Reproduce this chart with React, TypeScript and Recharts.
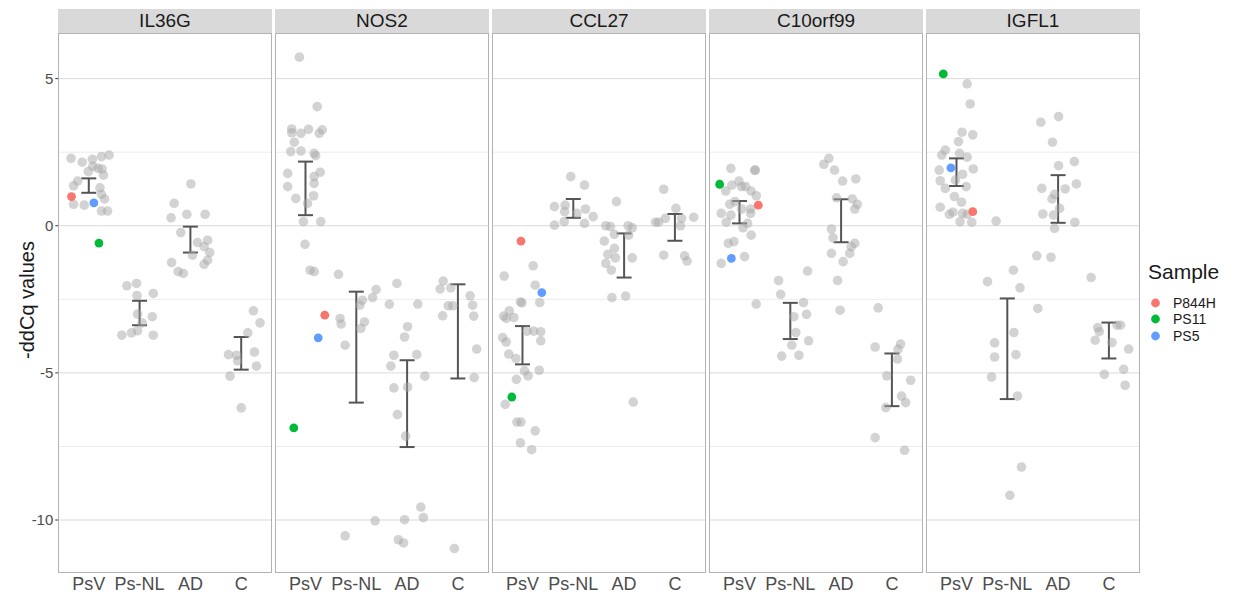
import React from 'react';
import { ScatterChart, Scatter, XAxis, YAxis, CartesianGrid, ErrorBar } from 'recharts';

const GROUPS = ['PsV', 'Ps-NL', 'AD', 'C'];
const GENES = ['IL36G', 'NOS2', 'CCL27', 'C10orf99', 'IGFL1'];

// each point: [group index, jitter, -ddCq]
type Pt = [number, number, number];

const IL36G: Pt[] = [
  [0, -0.35, 2.29], [0, -0.13, 2.16], [0, 0.07, 2.26], [0, 0.25, 2.35], [0, 0.4, 2.4],
  [0, 0.08, 2.02], [0, 0.18, 1.95], [0, 0.26, 1.93], [0, -0.01, 1.84], [0, 0.29, 1.72],
  [0, -0.22, 1.52], [0, -0.3, 1.36], [0, 0.22, 1.29], [0, 0.25, 1.07], [0, 0.31, 0.91],
  [0, -0.3, 0.73], [0, -0.09, 0.7], [0, 0.25, 0.5], [0, 0.37, 0.5],
  [1, -0.25, -2.04], [1, -0.06, -1.96], [1, 0.27, -2.3], [1, -0.05, -2.37], [1, -0.04, -3.0],
  [1, 0.25, -3.09], [1, 0.05, -3.3], [1, -0.35, -3.72], [1, -0.16, -3.64], [1, -0.04, -3.57],
  [1, 0.27, -3.72],
  [2, 0.01, 1.42], [2, -0.32, 0.76], [2, -0.38, 0.27], [2, -0.07, 0.39], [2, 0.29, 0.39],
  [2, -0.19, -0.23], [2, 0.14, -0.57], [2, 0.34, -0.49], [2, 0.27, -0.71], [2, 0.38, -0.91],
  [2, 0.04, -1.0], [2, 0.34, -1.17], [2, -0.37, -1.25], [2, 0.27, -1.31], [2, -0.24, -1.56],
  [2, -0.14, -1.62],
  [3, 0.24, -2.89], [3, 0.37, -3.3], [3, 0.13, -3.64], [3, 0.26, -4.29], [3, -0.25, -4.38],
  [3, -0.09, -4.4], [3, -0.07, -4.59], [3, 0.3, -4.77], [3, -0.22, -5.11], [3, 0, -6.19],
];

const NOS2: Pt[] = [
  [0, -0.12, 5.73], [0, 0.23, 4.05], [0, -0.27, 3.29], [0, -0.27, 3.16], [0, -0.09, 3.14],
  [0, 0.06, 3.28], [0, 0.33, 3.26], [0, 0.27, 3.14], [0, -0.22, 2.84], [0, -0.29, 2.52],
  [0, -0.09, 2.54], [0, 0.17, 2.46], [0, 0.2, 2.38], [0, -0.35, 1.78], [0, 0.29, 1.82],
  [0, 0.17, 1.67], [0, -0.35, 1.33], [0, 0.17, 1.44], [0, 0.16, 1.02], [0, -0.19, 0.93],
  [0, 0.04, 0.76], [0, -0.04, 0.14], [0, 0.3, 0.14], [0, -0.01, -0.63], [0, 0.09, -1.51],
  [0, 0.17, -1.56],
  [1, -0.35, -1.65], [1, 0.39, -2.17], [1, 0.32, -2.44], [1, 0.07, -2.7], [1, 0.12, -2.53],
  [1, -0.32, -3.15], [1, -0.3, -3.34], [1, 0.16, -3.27], [1, 0.09, -3.49], [1, -0.22, -4.06],
  [1, 0.37, -10.03], [1, -0.22, -10.54],
  [2, -0.2, -1.96], [2, -0.35, -2.67], [2, 0.21, -2.66], [2, 0.01, -3.43], [2, -0.05, -3.78],
  [2, -0.26, -4.4], [2, 0.19, -4.38], [2, -0.32, -4.77], [2, 0.35, -5.11], [2, -0.26, -5.51],
  [2, 0.01, -5.48], [2, -0.19, -6.42], [2, -0.03, -7.15], [2, 0.27, -9.56], [2, 0.32, -9.92],
  [2, -0.05, -9.99], [2, -0.17, -10.67], [2, -0.07, -10.78],
  [3, -0.29, -1.88], [3, -0.35, -2.15], [3, -0.14, -2.11], [3, 0.24, -2.38], [3, -0.19, -2.72],
  [3, -0.1, -2.72], [3, 0.29, -2.7], [3, -0.3, -3.06], [3, 0.31, -3.07], [3, 0.37, -4.19],
  [3, 0.32, -5.16], [3, -0.07, -10.97],
];

const CCL27: Pt[] = [
  [0, 0.21, -1.36], [0, -0.36, -1.71], [0, 0.25, -2.02], [0, -0.04, -2.59], [0, -0.01, -2.62],
  [0, 0.34, -2.61], [0, -0.26, -2.89], [0, -0.37, -3.07], [0, -0.17, -3.12], [0, -0.32, -3.15],
  [0, 0.09, -3.58], [0, 0.22, -3.58], [0, 0.36, -3.6], [0, -0.39, -3.8], [0, -0.32, -3.95],
  [0, 0.36, -3.91], [0, -0.27, -4.36], [0, -0.13, -4.51], [0, 0.04, -4.93], [0, 0.11, -5.1],
  [0, 0.33, -4.91], [0, -0.12, -5.22], [0, -0.34, -6.07], [0, -0.11, -6.67], [0, -0.03, -6.67],
  [0, 0.25, -6.97], [0, -0.04, -7.38], [0, 0.18, -7.61],
  [1, -0.05, 1.67], [1, 0.22, 1.38], [1, -0.37, 0.65], [1, -0.16, 0.7], [1, -0.17, 0.48],
  [1, 0.24, 0.57], [1, 0.39, 0.31], [1, -0.18, 0.14], [1, -0.37, 0.02], [1, 0.22, 0.08],
  [1, 0.07, 0.42],
  [2, -0.15, 0.82], [2, -0.36, 0.0], [2, -0.27, -0.03], [2, 0.08, 0.0], [2, 0.16, -0.07],
  [2, -0.19, -0.29], [2, 0.09, -0.32], [2, -0.39, -0.52], [2, -0.19, -0.77], [2, -0.32, -0.97],
  [2, -0.17, -1.09], [2, 0.16, -1.09], [2, -0.36, -1.28], [2, -0.25, -1.51], [2, -0.24, -2.44],
  [2, 0.03, -2.39], [2, 0.18, -5.99],
  [3, -0.22, 1.24], [3, 0.02, 0.59], [3, 0.37, 0.29], [3, -0.19, 0.25], [3, 0.13, 0.25],
  [3, -0.38, 0.12], [3, -0.32, 0.12], [3, 0.11, 0.0], [3, -0.22, -1.0], [3, 0.19, -1.02],
  [3, 0.24, -1.2],
];

const C10ORF99: Pt[] = [
  [0, -0.17, 1.95], [0, 0.3, 1.88], [0, 0.31, 1.9], [0, -0.15, 1.38], [0, -0.01, 1.52],
  [0, 0.04, 1.33], [0, 0.12, 1.33], [0, -0.27, 1.18], [0, 0.23, 1.18], [0, 0.33, 1.02],
  [0, -0.09, 0.82], [0, -0.19, 0.73], [0, 0.04, 0.57], [0, 0.22, 0.57], [0, 0.22, 0.42],
  [0, -0.36, 0.42], [0, -0.17, 0.36], [0, -0.26, 0.12], [0, 0.16, 0.08], [0, 0.07, -0.07],
  [0, 0.23, -0.32], [0, -0.11, -0.54], [0, -0.22, -0.6], [0, 0.1, -1.05], [0, -0.36, -1.28],
  [0, 0.33, -2.66],
  [1, -0.23, -1.86], [1, -0.19, -2.33], [1, 0.34, -1.54], [1, 0.26, -2.61], [1, 0.07, -3.09],
  [1, 0.32, -3.01], [1, 0.11, -3.63], [1, 0.36, -3.91], [1, 0.03, -4.06], [1, -0.17, -4.43],
  [1, 0.17, -4.4],
  [2, -0.24, 2.29], [2, -0.34, 2.09], [2, -0.13, 1.89], [2, 0.03, 1.52], [2, 0.29, 1.59],
  [2, -0.09, 0.95], [2, 0.22, 0.91], [2, 0.32, 0.73], [2, 0.27, 0.57], [2, -0.19, -0.11],
  [2, -0.16, -0.41], [2, 0.27, -0.6], [2, 0.2, -0.71], [2, 0.17, -0.94], [2, -0.19, -0.94],
  [2, 0.04, -1.22], [2, -0.07, -1.86], [2, -0.02, -2.87],
  [3, -0.27, -2.79], [3, -0.33, -4.12], [3, 0.17, -4.02], [3, 0.12, -4.2], [3, 0.11, -4.53],
  [3, -0.1, -5.1], [3, 0.37, -5.25], [3, 0.19, -5.79], [3, 0.27, -6.01], [3, -0.12, -6.18],
  [3, -0.33, -7.2], [3, 0.25, -7.63],
];

const IGFL1: Pt[] = [
  [0, 0.21, 4.82], [0, 0.27, 4.14], [0, 0.11, 3.18], [0, 0.32, 3.09], [0, 0.04, 2.86],
  [0, -0.22, 2.57], [0, -0.29, 2.4], [0, 0.06, 2.46], [0, 0.21, 2.33], [0, -0.34, 1.89],
  [0, 0.33, 1.93], [0, 0.12, 1.75], [0, -0.32, 1.53], [0, -0.02, 1.55], [0, -0.22, 1.27],
  [0, 0.19, 1.33], [0, -0.04, 0.99], [0, 0.1, 0.8], [0, -0.32, 0.63], [0, -0.14, 0.39],
  [0, -0.07, 0.46], [0, 0.12, 0.42], [0, 0.21, 0.39], [0, 0.07, 0.14], [0, 0.3, 0.12],
  [1, -0.22, 0.16], [1, 0.12, -1.51], [1, -0.39, -1.9], [1, 0.25, -2.11], [1, 0.13, -3.63],
  [1, -0.25, -3.98], [1, -0.25, -4.46], [1, 0.17, -4.38], [1, -0.31, -5.14], [1, 0.2, -5.79],
  [1, 0.28, -8.2], [1, 0.05, -9.16],
  [2, 0.01, 3.71], [2, -0.34, 3.52], [2, -0.11, 2.84], [2, 0.32, 2.18], [2, 0.01, 2.04],
  [2, 0.36, 1.42], [2, -0.32, 1.27], [2, 0.14, 1.25], [2, -0.07, 1.07], [2, -0.12, 0.91],
  [2, 0.03, 0.59], [2, -0.3, 0.4], [2, -0.09, 0.36], [2, 0.33, 0.12], [2, -0.07, -0.09],
  [2, -0.42, -1.02], [2, -0.14, -1.07], [2, -0.4, -2.81],
  [3, -0.35, -1.76], [3, -0.22, -3.46], [3, -0.19, -3.6], [3, 0.16, -3.38], [3, 0.23, -3.38],
  [3, -0.27, -3.89], [3, 0.06, -3.97], [3, 0.39, -4.19], [3, 0.29, -4.88], [3, -0.09, -5.05],
  [3, 0.32, -5.42],
];

const POINTS = [IL36G, NOS2, CCL27, C10ORF99, IGFL1];

// error bar [low, high] per group, per gene
const BARS: [number, number][][] = [
  [[1.12, 1.61], [-3.38, -2.55], [-0.91, -0.03], [-4.89, -3.78]],
  [[0.36, 2.18], [-6.01, -2.24], [-7.52, -4.57], [-5.19, -1.99]],
  [[-4.71, -3.41], [0.27, 0.91], [-1.76, -0.26], [-0.51, 0.4]],
  [[0.08, 0.84], [-3.85, -2.62], [-0.56, 0.9], [-6.13, -4.34]],
  [[1.35, 2.29], [-5.89, -2.47], [0.1, 1.72], [-4.51, -3.29]],
];

// highlighted PsV samples, one value per gene
const SAMPLE_NAMES = ['P844H', 'PS11', 'PS5'];
const SAMPLE_COLORS = ['#F8766D', '#00BA38', '#619CFF'];
const SAMPLE_VALUES = [
  [0.99, -3.04, -0.52, 0.7, 0.48],
  [-0.59, -6.87, -5.82, 1.41, 5.16],
  [0.78, -3.81, -2.27, -1.11, 1.97],
];
const SAMPLE_JITTER = [
  [-0.34, 0.38, -0.03, 0.37, 0.32],
  [0.2, -0.23, -0.21, -0.39, -0.26],
  [0.1, 0.25, 0.38, -0.16, -0.11],
];

const MAJOR = [-10, -5, 0, 5];
const MINOR = [-7.5, -2.5, 2.5];
const Y_DOMAIN: [number, number] = [-11.8, 6.55];

const FONT = '"Liberation Sans", Arial, sans-serif';
const PANEL_X0 = 58.3;
const PANEL_STEP = 217;
const PANEL_W = 213.4;
const PLOT_TOP = 33;
const PLOT_H = 540;
const AXIS_W = 58.3;

const grayDot = (p: any) => (
  <circle cx={p.cx} cy={p.cy} r={4.8} fill="#a8a8a8" fillOpacity={0.5} />
);

function Panel({ index }: { index: number }) {
  const first = index === 0;
  const yW = first ? AXIS_W : 0;
  const left = PANEL_X0 + index * PANEL_STEP;
  const pts = POINTS[index].map(([g, j, v]) => ({ x: g + 1 + j, y: v }));
  const bars = BARS[index].map(([lo, hi], g) => ({ x: g + 1, y: (lo + hi) / 2, err: (hi - lo) / 2 }));

  return (
    <>
      <div
        style={{
          position: 'absolute', left, top: 9, width: PANEL_W, height: 24,
          background: '#d9d9d9', color: '#1a1a1a', fontSize: 19, lineHeight: '24px',
          textAlign: 'center',
        }}
      >
        {GENES[index]}
      </div>
      <div style={{ position: 'absolute', left: left - yW, top: PLOT_TOP }}>
        <ScatterChart width={PANEL_W + yW} height={PLOT_H + 30} margin={{ top: 0, right: 0, bottom: 0, left: 0 }}>
          <CartesianGrid vertical={false} horizontalValues={MINOR} stroke="#ececec" strokeWidth={1} />
          <CartesianGrid vertical={false} horizontalValues={MAJOR} stroke="#d9d9d9" strokeWidth={1} />
          <XAxis
            type="number"
            dataKey="x"
            domain={[0.4, 4.6]}
            ticks={[1, 2, 3, 4]}
            interval={0}
            allowDataOverflow
            tickFormatter={(v) => GROUPS[v - 1]}
            axisLine={false}
            tickLine={false}
            tickSize={0}
            tickMargin={4}
            height={30}
            tick={{ fontSize: 18, fill: '#4d4d4d', fontFamily: FONT }}
          />
          <YAxis
            type="number"
            dataKey="y"
            domain={Y_DOMAIN}
            ticks={MAJOR}
            allowDataOverflow
            hide={!first}
            width={yW}
            axisLine={false}
            tickLine={{ stroke: '#333333' }}
            tickSize={3}
            tick={{ fontSize: 15, fill: '#4d4d4d', fontFamily: FONT }}
          />
          <Scatter data={pts} shape={grayDot} isAnimationActive={false} />
          <Scatter data={bars} shape={() => <g />} isAnimationActive={false}>
            <ErrorBar dataKey="err" direction="y" width={7.5} stroke="#555555" strokeWidth={2} isAnimationActive={false} />
          </Scatter>
          {SAMPLE_NAMES.map((name, s) => (
            <Scatter
              key={name}
              name={name}
              data={[{ x: 1 + SAMPLE_JITTER[s][index], y: SAMPLE_VALUES[s][index] }]}
              shape={(p: any) => <circle cx={p.cx} cy={p.cy} r={4.4} fill={SAMPLE_COLORS[s]} />}
              isAnimationActive={false}
            />
          ))}
        </ScatterChart>
      </div>
      <div
        style={{
          position: 'absolute', left, top: PLOT_TOP, width: PANEL_W, height: PLOT_H,
          border: '1px solid #b3b3b3', boxSizing: 'border-box', pointerEvents: 'none',
        }}
      />
    </>
  );
}

export default function App() {
  return (
    <div
      style={{
        position: 'absolute', left: 0, top: 0, width: 1240, height: 598,
        background: '#ffffff', fontFamily: FONT, overflow: 'hidden',
      }}
    >
      {GENES.map((g, i) => (
        <Panel key={g} index={i} />
      ))}
      <div
        style={{
          position: 'absolute', left: 27 - 100, top: 300 - 12, width: 200, height: 24,
          lineHeight: '24px', textAlign: 'center', fontSize: 20, color: '#1a1a1a',
          transform: 'rotate(-90deg)',
        }}
      >
        -ddCq values
      </div>
      <div style={{ position: 'absolute', left: 1148, top: 259, fontSize: 21, lineHeight: '26px', color: '#1a1a1a' }}>
        Sample
      </div>
      {SAMPLE_NAMES.map((name, s) => (
        <div
          key={name}
          style={{
            position: 'absolute', left: 1150, top: 295 + s * 16.3, height: 16, lineHeight: '16px',
            fontSize: 14, color: '#1a1a1a', display: 'flex', alignItems: 'center',
          }}
        >
          <svg width={12} height={16}>
            <circle cx={5.5} cy={8} r={4.4} fill={SAMPLE_COLORS[s]} />
          </svg>
          <span style={{ marginLeft: 11 }}>{name}</span>
        </div>
      ))}
    </div>
  );
}
